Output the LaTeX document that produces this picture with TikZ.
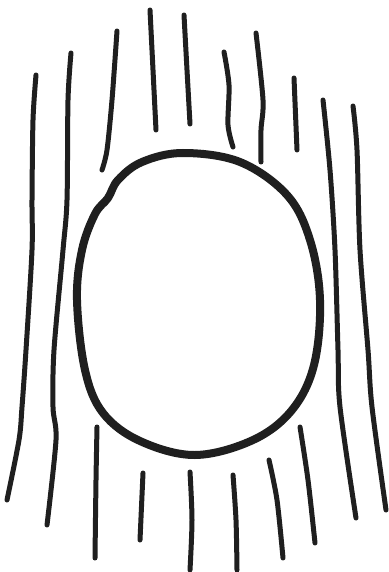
\documentclass[tikz,border=0pt]{standalone}
\begin{document}
\begin{tikzpicture}[x=1pt,y=-1pt,
  ink/.style={draw=black!88,line width=5pt,line cap=round,line join=round},
  rim/.style={draw=black!88,line width=8pt,line cap=round,line join=round}]
\useasboundingbox[fill=white] (0,0) rectangle (388,572);
% oval
\draw[rim] plot[smooth cycle,tension=0.6] coordinates{
 (183,153) (240,162) (287,195) (310,240) (320,300) (314,365) (292,410)
 (253,440) (195,455) (140,441) (103,413) (85,370) (77,300) (82,250)
 (95,214) (108,198) (118,180) (142,162)};
% left long lines
\draw[ink] plot[smooth] coordinates{(36,75) (33,120) (32,200) (32,250) (26,350) (22,407) (19,440) (7,500)};
\draw[ink] plot[smooth] coordinates{(71,53) (68,100) (67,200) (63,250) (54,350) (53,407) (56,440) (47,525)};
% top lines
\draw[ink] plot[smooth] coordinates{(117,31) (112,100) (107,150) (102,170)};
\draw[ink] plot[smooth] coordinates{(150,10) (153,70) (156,130)};
\draw[ink] plot[smooth] coordinates{(184,15) (187,70) (190,124)};
\draw[ink] plot[smooth] coordinates{(224,52) (229,85) (228,125) (233,147)};
\draw[ink] plot[smooth] coordinates{(256,33) (263,100) (261,130) (261,162)};
\draw[ink] plot[smooth] coordinates{(294,78) (297,150)};
% right long lines
\draw[ink] plot[smooth] coordinates{(323,100) (330,170) (335,250) (338,350) (340,407) (356,518)};
\draw[ink] plot[smooth] coordinates{(353,106) (357,150) (360,250) (368,350) (372,407) (386,510)};
% bottom lines
\draw[ink] plot[smooth] coordinates{(97,427) (96,480) (95,558)};
\draw[ink] plot[smooth] coordinates{(143,473) (140,540)};
\draw[ink] plot[smooth] coordinates{(190,472) (192,520) (190,570)};
\draw[ink] plot[smooth] coordinates{(233,475) (236,520) (237,570)};
\draw[ink] plot[smooth] coordinates{(269,460) (277,500) (283,558)};
\draw[ink] plot[smooth] coordinates{(300,427) (308,480) (315,543)};
\end{tikzpicture}
\end{document}
